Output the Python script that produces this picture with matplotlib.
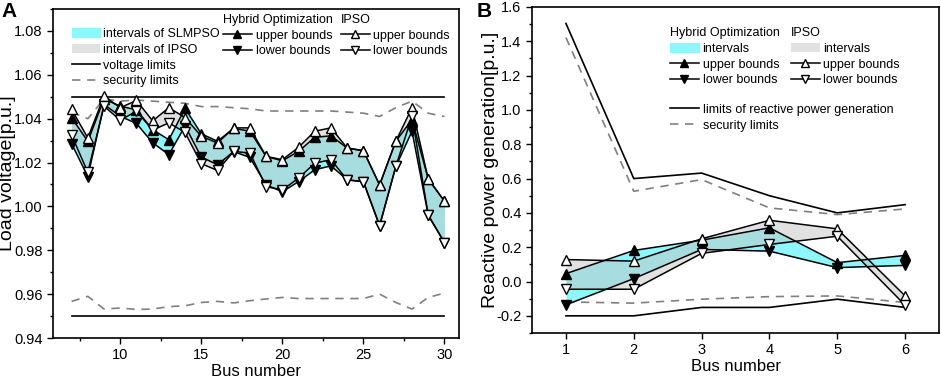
import numpy as np
import matplotlib.pyplot as plt
from matplotlib.patches import Patch
from matplotlib.lines import Line2D
from matplotlib.ticker import MultipleLocator

plt.rcParams['font.family'] = ['Liberation Sans', 'DejaVu Sans']

# ---------------- panel A: load voltage ----------------
bus_a = np.arange(7, 31)
ipso_up_a = [1.0442, 1.0312, 1.0503, 1.0450, 1.0483, 1.0390, 1.0450, 1.0405, 1.0320, 1.0289, 1.0358, 1.0358,
             1.0228, 1.0213, 1.0269, 1.0343, 1.0358, 1.0266, 1.0254, 1.0098, 1.0297, 1.0450, 1.0125, 1.0024]
ipso_lo_a = [1.0324, 1.0156, 1.0457, 1.0393, 1.0434, 1.0348, 1.0381, 1.0337, 1.0195, 1.0164, 1.0251, 1.0243,
             1.0090, 1.0075, 1.0129, 1.0197, 1.0213, 1.0121, 1.0113, 0.9912, 1.0182, 1.0411, 0.9960, 0.9835]
hyb_up_a = [1.0404, 1.0297, 1.0490, 1.0457, 1.0440, 1.0350, 1.0304, 1.0447, 1.0331, 1.0297, 1.0356, 1.0343,
            1.0228, 1.0208, 1.0251, 1.0315, 1.0322, 1.0266, 1.0254, 1.0098, 1.0297, 1.0396, 1.0125, 1.0024]
hyb_lo_a = [1.0286, 1.0136, 1.0465, 1.0411, 1.0378, 1.0290, 1.0236, 1.0367, 1.0225, 1.0190, 1.0250, 1.0223,
            1.0098, 1.0067, 1.0113, 1.0167, 1.0185, 1.0121, 1.0113, 0.9912, 1.0182, 1.0343, 0.9960, 0.9835]
sec_up_a = [1.0430, 1.0400, 1.0490, 1.0480, 1.0485, 1.0480, 1.0475, 1.0470, 1.0455, 1.0455, 1.0450, 1.0445,
            1.0435, 1.0435, 1.0435, 1.0435, 1.0435, 1.0430, 1.0425, 1.0410, 1.0450, 1.0480, 1.0425, 1.0410]
sec_lo_a = [0.9567, 0.9590, 0.9532, 0.9537, 0.9530, 0.9532, 0.9543, 0.9547, 0.9562, 0.9567, 0.9560, 0.9570,
            0.9578, 0.9585, 0.9580, 0.9580, 0.9580, 0.9580, 0.9580, 0.9600, 0.9562, 0.9532, 0.9585, 0.9605]
volt_lo, volt_hi = 0.95, 1.05

# ---------------- panel B: reactive power ----------------
bus_b = np.arange(1, 7)
hyb_up_b = [0.046, 0.181, 0.241, 0.313, 0.110, 0.152]
hyb_lo_b = [-0.136, 0.017, 0.187, 0.177, 0.081, 0.094]
ipso_up_b = [0.128, 0.119, 0.249, 0.357, 0.307, -0.084]
ipso_lo_b = [-0.045, -0.045, 0.164, 0.216, 0.264, -0.138]
qlim_up = [1.504, 0.600, 0.632, 0.500, 0.400, 0.448]
qlim_lo = [-0.200, -0.200, -0.151, -0.151, -0.103, -0.151]
sec_up_b = [1.422, 0.526, 0.594, 0.429, 0.390, 0.423]
sec_lo_b = [-0.119, -0.126, -0.103, -0.088, -0.084, -0.122]

CYAN = '#8df7fb'
GREY = '#c4c4c4'
GREY_A = 0.5
DASH = (0, (5, 4))
MS = 6.5
FS_LEG = 9

fig = plt.figure(figsize=(9.41, 3.8), dpi=100)
ax1 = fig.add_axes([0.0563, 0.1105, 0.4315, 0.8658])
ax2 = fig.add_axes([0.5654, 0.1237, 0.4325, 0.8579])


def draw_bounds(ax, x, hu, hl, iu, il):
    ax.fill_between(x, hu, hl, color=CYAN, lw=0, zorder=1)
    ax.fill_between(x, iu, il, color=GREY, alpha=GREY_A, lw=0, zorder=2)
    ax.plot(x, hu, '-', color='black', lw=1.1, marker='^', ms=MS, mfc='black', mec='black', zorder=3)
    ax.plot(x, hl, '-', color='black', lw=1.1, marker='v', ms=MS, mfc='black', mec='black', zorder=3)
    ax.plot(x, iu, '-', color='black', lw=1.1, marker='^', ms=MS, mfc='white', mec='black', zorder=4)
    ax.plot(x, il, '-', color='black', lw=1.1, marker='v', ms=MS, mfc='white', mec='black', zorder=4)


def style_axes(ax):
    for s in ax.spines.values():
        s.set_linewidth(1.2)
    ax.tick_params(which='both', direction='out', top=False, right=False, labelsize=10.5, width=1.0)
    ax.tick_params(which='major', length=4)
    ax.tick_params(which='minor', length=2)


bound_handles = [
    Line2D([], [], color='black', lw=1.1, marker='^', ms=MS - 1, mfc='black', mec='black'),
    Line2D([], [], color='black', lw=1.1, marker='v', ms=MS - 1, mfc='black', mec='black'),
    Line2D([], [], color='black', lw=1.1, marker='^', ms=MS - 1, mfc='white', mec='black'),
    Line2D([], [], color='black', lw=1.1, marker='v', ms=MS - 1, mfc='white', mec='black'),
]
leg_kw = dict(frameon=False, fontsize=FS_LEG, borderpad=0, borderaxespad=0, labelspacing=0.3,
              handletextpad=0.3, loc='upper left', title_fontsize=FS_LEG, alignment='left')

# ---- panel A ----
draw_bounds(ax1, bus_a, hyb_up_a, hyb_lo_a, ipso_up_a, ipso_lo_a)
ax1.plot(bus_a, [volt_hi] * len(bus_a), color='black', lw=1.2)
ax1.plot(bus_a, [volt_lo] * len(bus_a), color='black', lw=1.2)
ax1.plot(bus_a, sec_up_a, color='#808080', lw=1.2, ls=DASH)
ax1.plot(bus_a, sec_lo_a, color='#808080', lw=1.2, ls=DASH)
ax1.set_xlim(5.85, 30.9)
ax1.set_ylim(0.94, 1.09)
ax1.set_yticks(np.arange(0.94, 1.081, 0.02))
ax1.yaxis.set_major_formatter(plt.FormatStrFormatter('%.2f'))
ax1.yaxis.set_minor_locator(MultipleLocator(0.01))
ax1.set_xticks([10, 15, 20, 25, 30])
ax1.xaxis.set_minor_locator(MultipleLocator(2.5))
ax1.set_xlabel('Bus number', fontsize=12, labelpad=1)
ax1.set_ylabel('Load voltage[p.u.]', fontsize=14)
ax1.yaxis.set_label_coords(-0.092, 0.5)
style_axes(ax1)

lg = ax1.legend([Patch(facecolor=CYAN, edgecolor=CYAN),
                 Patch(facecolor=GREY, alpha=GREY_A, edgecolor='none'),
                 Line2D([], [], color='black', lw=1.2),
                 Line2D([], [], color='#808080', lw=1.2, ls=DASH)],
                ['intervals of SLMPSO', 'intervals of IPSO', 'voltage limits', 'security limits'],
                bbox_to_anchor=(0.047, 0.942), handlelength=2.2, **leg_kw)
ax1.add_artist(lg)
lg = ax1.legend(bound_handles[:2], ['upper bounds', 'lower bounds'], title='Hybrid Optimization',
                bbox_to_anchor=(0.419, 0.985), handlelength=2.3, numpoints=1, **leg_kw)
ax1.add_artist(lg)
ax1.legend(bound_handles[2:], ['upper bounds', 'lower bounds'], title='IPSO',
           bbox_to_anchor=(0.709, 0.985), handlelength=2.3, numpoints=1, **leg_kw)

# ---- panel B ----
draw_bounds(ax2, bus_b, hyb_up_b, hyb_lo_b, ipso_up_b, ipso_lo_b)
ax2.plot(bus_b, qlim_up, color='black', lw=1.2)
ax2.plot(bus_b, qlim_lo, color='black', lw=1.2)
ax2.plot(bus_b, sec_up_b, color='#808080', lw=1.2, ls=DASH)
ax2.plot(bus_b, sec_lo_b, color='#808080', lw=1.2, ls=DASH)
ax2.set_xlim(0.5, 6.5)
ax2.set_ylim(-0.3, 1.6)
ax2.set_yticks(np.arange(-0.2, 1.61, 0.2))
ax2.yaxis.set_major_formatter(plt.FormatStrFormatter('%.1f'))
ax2.yaxis.set_minor_locator(MultipleLocator(0.1))
ax2.set_xticks(bus_b)
ax2.set_xlabel('Bus number', fontsize=12, labelpad=1)
ax2.set_ylabel('Reactive power generation[p.u.]', fontsize=14)
ax2.yaxis.set_label_coords(-0.08, 0.5)
style_axes(ax2)

lg = ax2.legend([Patch(facecolor=CYAN, edgecolor=CYAN)] + bound_handles[:2],
                ['intervals', 'upper bounds', 'lower bounds'], title='Hybrid Optimization',
                bbox_to_anchor=(0.339, 0.938), handlelength=2.3, numpoints=1, **leg_kw)
ax2.add_artist(lg)
lg = ax2.legend([Patch(facecolor=GREY, alpha=GREY_A, edgecolor='none')] + bound_handles[2:],
                ['intervals', 'upper bounds', 'lower bounds'], title='IPSO',
                bbox_to_anchor=(0.636, 0.938), handlelength=2.3, numpoints=1, **leg_kw)
ax2.add_artist(lg)
ax2.legend([Line2D([], [], color='black', lw=1.2), Line2D([], [], color='#808080', lw=1.2, ls=DASH)],
           ['limits of reactive power generation', 'security limits'],
           bbox_to_anchor=(0.339, 0.703), handlelength=2.3, **leg_kw)

fig.text(0.002, 0.995, 'A', fontsize=15, fontweight='bold', va='top')
fig.text(0.506, 0.995, 'B', fontsize=15, fontweight='bold', va='top')

fig.savefig('out.png', dpi=100)
